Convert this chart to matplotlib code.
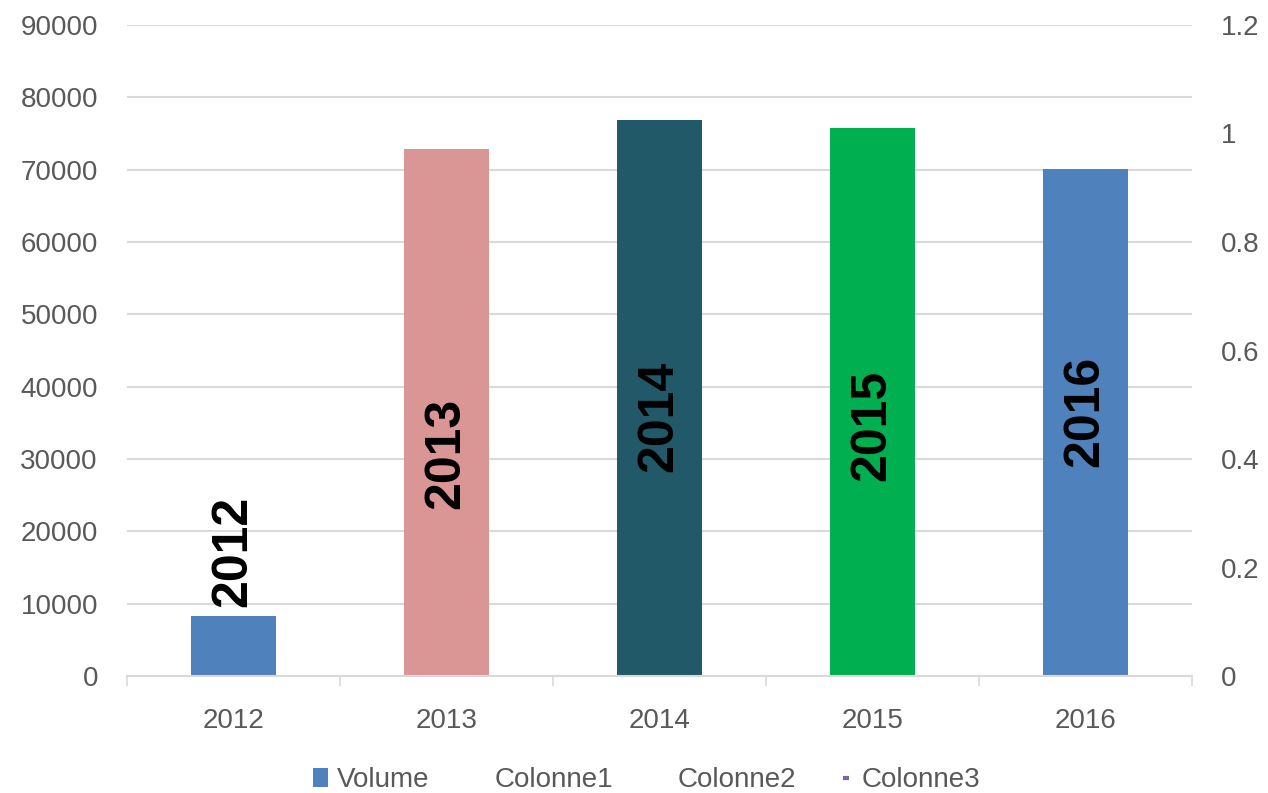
import matplotlib.pyplot as plt
import numpy as np
from matplotlib.patches import Patch
from matplotlib.lines import Line2D

# ---- data ----
years = ['2012', '2013', '2014', '2015', '2016']
volume = [8300, 72900, 76800, 75800, 70100]
bar_colors = ['#4f81bd', '#d99694', '#215968', '#00b050', '#4f81bd']
label_y = [17200, 30760, 35950, 34700, 36570]   # centre of the rotated year labels
left_ticks = [0, 10000, 20000, 30000, 40000, 50000, 60000, 70000, 80000, 90000]
right_ticks = [0, 0.2, 0.4, 0.6, 0.8, 1.0, 1.2]
right_labels = ['0', '0.2', '0.4', '0.6', '0.8', '1', '1.2']
legend_names = ['Volume', 'Colonne1', 'Colonne2', 'Colonne3']

plt.rcParams['font.family'] = ['Liberation Sans', 'DejaVu Sans']
grey = '#595959'

fig = plt.figure(figsize=(12.68, 7.93), dpi=100)
ax = fig.add_axes([0.1002, 0.1475, 0.8398, 0.821])
x = np.arange(len(years))

ax.bar(x, volume, width=0.40, color=bar_colors, zorder=3)
for xi, yi, txt in zip(x, label_y, years):
    ax.text(xi, yi, txt, rotation=90, ha='center', va='center',
            fontsize=36, fontweight='bold', color='black', zorder=4)

ax.set_xlim(-0.5, len(years) - 0.5)
ax.set_ylim(0, 90000)
ax.set_yticks(left_ticks)
ax.set_yticklabels([str(t) for t in left_ticks])
ax.set_xticks(x)
ax.set_xticklabels(years)
ax.set_xticks(np.arange(len(years) + 1) - 0.5, minor=True)
ax.tick_params(axis='x', which='major', length=0, pad=23, labelsize=20, labelcolor=grey)
ax.tick_params(axis='x', which='minor', length=7.5, width=1.2, color='#d9d9d9', direction='out')
ax.tick_params(axis='y', length=0, pad=21, labelsize=20, labelcolor=grey)
ax.grid(axis='y', color='#d9d9d9', lw=1.5, zorder=0)
for s in ['top', 'right', 'left']:
    ax.spines[s].set_visible(False)
ax.spines['bottom'].set_color('#d9d9d9')
ax.spines['bottom'].set_linewidth(1.5)
ax.spines['bottom'].set_zorder(5)

ax2 = ax.twinx()
ax2.set_ylim(0, 1.2)
ax2.set_yticks(right_ticks)
ax2.set_yticklabels(right_labels)
ax2.tick_params(axis='y', length=0, pad=21, labelsize=20, labelcolor=grey)
for s in ax2.spines.values():
    s.set_visible(False)

# Colonne1/2 show no key in the reference, Colonne3 only a tiny purple dash
handles = [Patch(facecolor='#4f81bd'),
           Patch(facecolor='none', edgecolor='none'),
           Patch(facecolor='none', edgecolor='none'),
           Line2D([], [], color='#8064a2', ls='none', marker='_',
                  markersize=5, markeredgewidth=3)]
fig.legend(handles, legend_names, loc='lower center', bbox_to_anchor=(0.51, -0.032),
           ncol=4, frameon=False, fontsize=20, labelcolor=grey,
           handlelength=0.55, handleheight=0.7, handletextpad=0.3, columnspacing=1.5)

fig.savefig('out.png', dpi=100)
